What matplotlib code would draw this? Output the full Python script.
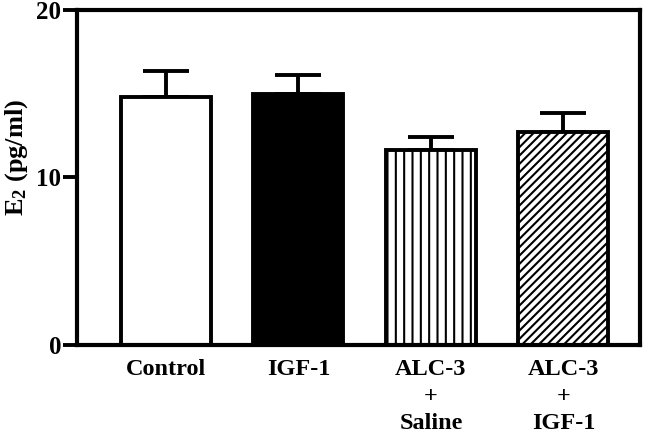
import matplotlib.pyplot as plt

plt.rcParams['font.family'] = ['Liberation Serif', 'DejaVu Serif']
plt.rcParams['font.weight'] = 'bold'
plt.rcParams['mathtext.default'] = 'regular'
plt.rcParams['hatch.linewidth'] = 1.5

groups = ["Control", "IGF-1", "ALC-3\n+\nSaline", "ALC-3\n+\nIGF-1"]
means = [14.8, 15.0, 11.65, 12.7]
sems = [1.55, 1.1, 0.78, 1.13]
faces = ["white", "black", "white", "white"]
hatches = [None, None, "||", "////"]

fig = plt.figure(figsize=(6.56, 4.36), dpi=100)
ax = fig.add_axes([0.117, 0.209, 0.859, 0.768])

pos = range(len(groups))
for i in pos:
    ax.bar(i, means[i], width=0.68, color=faces[i], edgecolor="black",
           linewidth=2.8, hatch=hatches[i], zorder=2)
    ax.errorbar(i, means[i], yerr=[[0], [sems[i]]], fmt="none", ecolor="black",
                elinewidth=2.8, capsize=16.5, capthick=2.8, zorder=1)

ax.set_xlim(-0.673, 3.58)
ax.set_ylim(0, 20)
ax.set_yticks([0, 10, 20])
ax.set_xticks(list(pos))
ax.set_xticklabels(groups, fontsize=17.5, fontweight="bold", linespacing=1.38)
ax.tick_params(axis="x", length=0, pad=10)
ax.tick_params(axis="y", length=10, width=2.8, labelsize=18, pad=1)
for s in ax.spines.values():
    s.set_linewidth(3)
ax.set_ylabel("E$_2$ (pg/ml)", fontsize=19, fontweight="bold")
ax.yaxis.set_label_coords(-0.083, 0.56)

fig.savefig("out.png", dpi=100)
